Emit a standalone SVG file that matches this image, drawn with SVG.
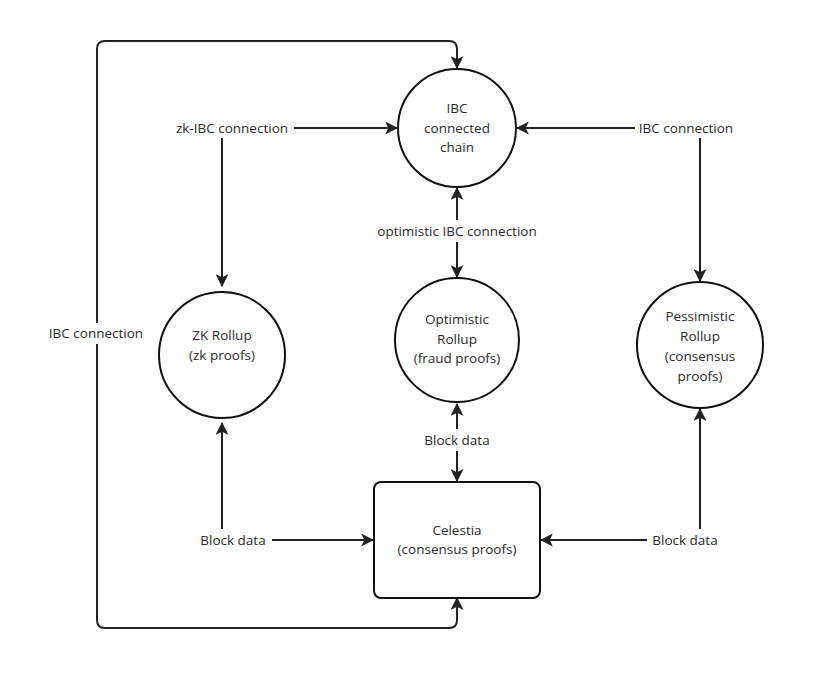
<svg xmlns="http://www.w3.org/2000/svg" width="828" height="700" viewBox="0 0 828 700">
<defs>
<marker id="ah" viewBox="0 0 12 12" refX="11" refY="6" markerWidth="13" markerHeight="13" markerUnits="userSpaceOnUse" orient="auto-start-reverse">
<path d="M0,0 L12,6 L0,12 L3,6 z" fill="#222"/>
</marker>
<style>
.n{fill:#fff;stroke:#111;stroke-width:2}
.t{font-family:"Open Sans","Noto Sans","DejaVu Sans",sans-serif;font-size:13.5px;fill:#2a2a2a;text-anchor:middle;dominant-baseline:middle}
.e{fill:none;stroke:#222;stroke-width:2}
.bg{fill:#fff}
</style>
</defs>
<rect width="828" height="700" fill="#fff"/>
<g id="connectors" transform="translate(0,0)">
<path class="e" d="M457,598 L457,620 Q457,628 449,628 L105,628 Q97,628 97,620 L97,49 Q97,41 105,41 L449,41 Q457,41 457,49 L457,68" marker-start="url(#ah)" marker-end="url(#ah)"/>
<rect class="bg" x="42" y="323" width="110" height="21"/>
<text class="t" x="96" y="334.5">IBC connection</text>
<path class="e" d="M294,128 L397,128" marker-end="url(#ah)"/>
<path class="e" d="M222,138 L222,286" marker-end="url(#ah)"/>
<text class="t" x="232" y="129.5">zk-IBC connection</text>
<path class="e" d="M635,128 L517,128" marker-end="url(#ah)"/>
<path class="e" d="M700,138 L700,281" marker-end="url(#ah)"/>
<text class="t" x="686" y="129.5">IBC connection</text>
<path class="e" d="M457,220 L457,188" marker-end="url(#ah)"/>
<path class="e" d="M457,242 L457,277" marker-end="url(#ah)"/>
<text class="t" x="457" y="232.5">optimistic IBC connection</text>
<path class="e" d="M457,429 L457,404" marker-end="url(#ah)"/>
<path class="e" d="M457,451 L457,481" marker-end="url(#ah)"/>
<text class="t" x="457" y="441.5">Block data</text>
<path class="e" d="M222,529 L222,423" marker-end="url(#ah)"/>
<path class="e" d="M272,540 L373,540" marker-end="url(#ah)"/>
<text class="t" x="233" y="541.5">Block data</text>
<path class="e" d="M700,529 L700,409" marker-end="url(#ah)"/>
<path class="e" d="M647,540 L541,540" marker-end="url(#ah)"/>
<text class="t" x="685" y="541.5">Block data</text>
</g>
<g id="ibc-chain">
<circle class="n" cx="457" cy="128" r="59"/>
<text class="t" x="457" y="109.5">IBC</text>
<text class="t" x="457" y="129.5">connected</text>
<text class="t" x="457" y="148.5">chain</text>
</g>
<g id="zk-rollup">
<circle class="n" cx="222" cy="355" r="63"/>
<text class="t" x="222" y="336.5">ZK Rollup</text>
<text class="t" x="222" y="356.5">(zk proofs)</text>
</g>
<g id="optimistic-rollup">
<circle class="n" cx="457" cy="340" r="62"/>
<text class="t" x="457" y="320.5">Optimistic</text>
<text class="t" x="457" y="340.5">Rollup</text>
<text class="t" x="457" y="359.5">(fraud proofs)</text>
</g>
<g id="pessimistic-rollup">
<circle class="n" cx="700" cy="345" r="63"/>
<text class="t" x="700" y="317.5">Pessimistic</text>
<text class="t" x="700" y="337.5">Rollup</text>
<text class="t" x="700" y="357.5">(consensus</text>
<text class="t" x="700" y="377.5">proofs)</text>
</g>
<g id="celestia">
<rect class="n" x="374" y="482" width="166" height="116" rx="7"/>
<text class="t" x="457" y="531.5">Celestia</text>
<text class="t" x="457" y="550.5">(consensus proofs)</text>
</g>
</svg>
